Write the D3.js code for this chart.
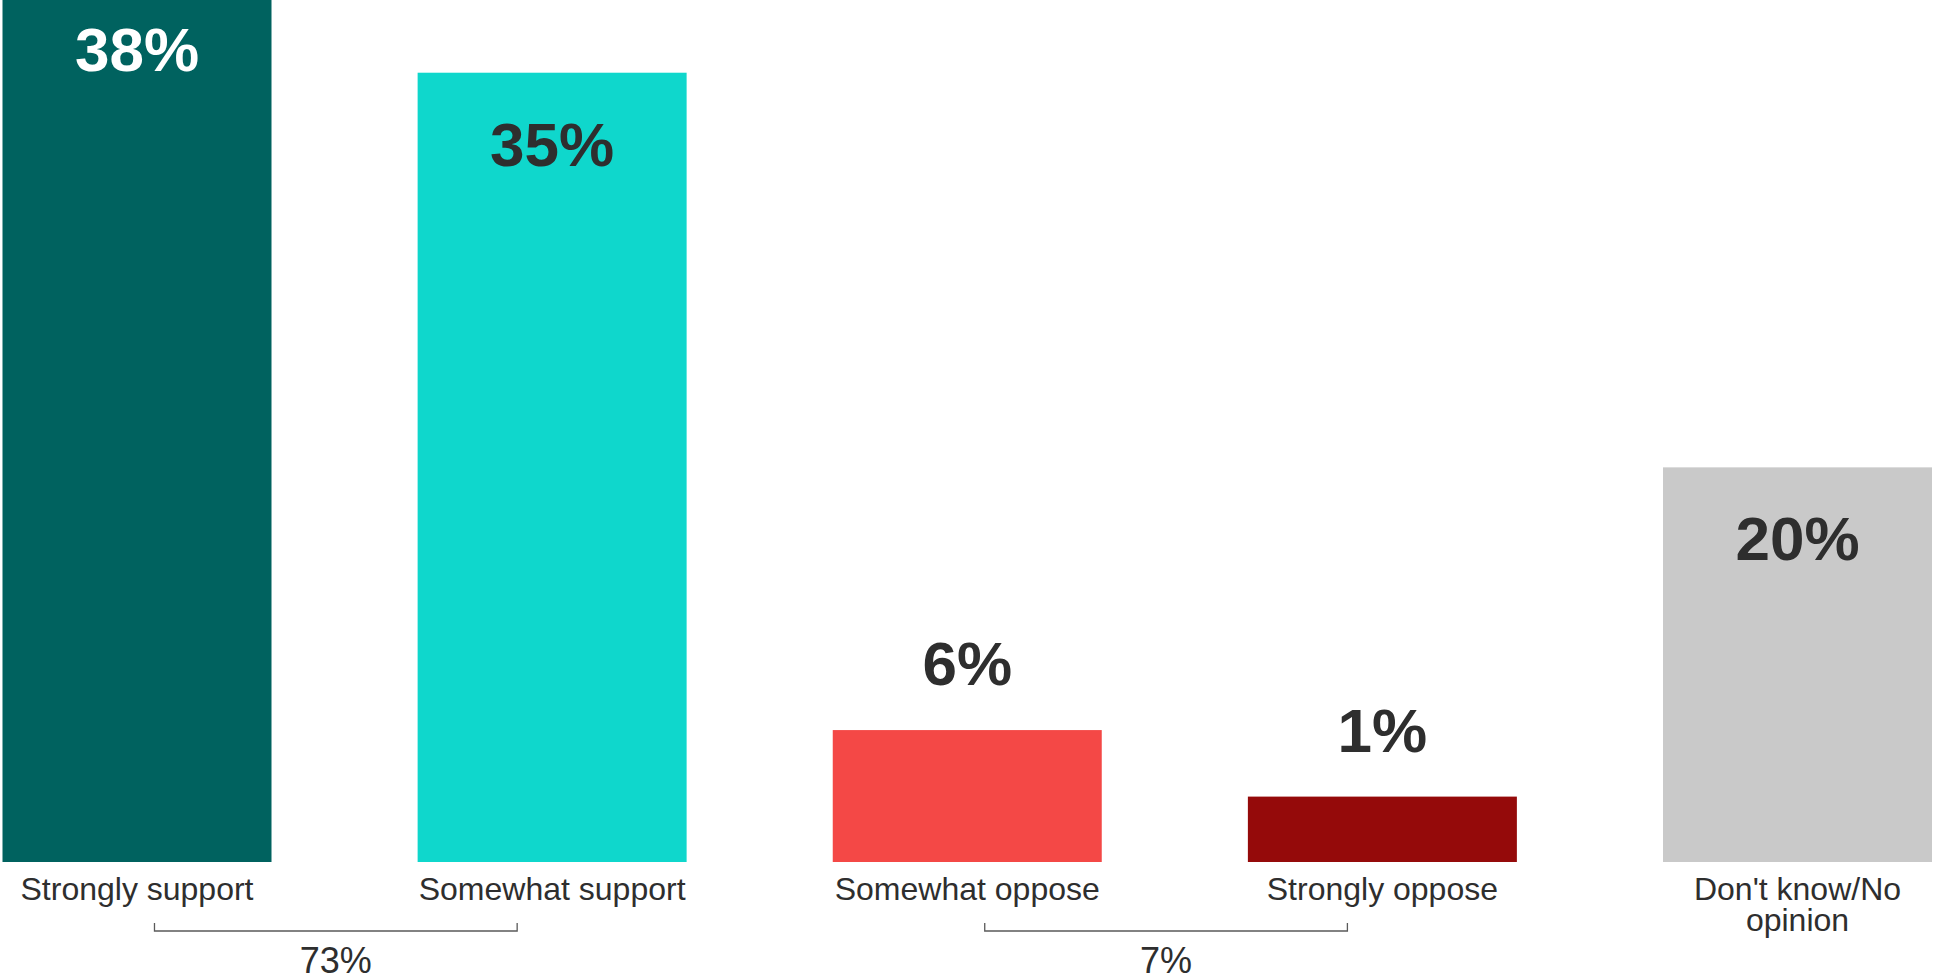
<!DOCTYPE html>
<html>
<head>
<meta charset="utf-8">
<script src="https://cdn.jsdelivr.net/npm/d3@7"></script>
<style>
  body { margin: 0; background: #ffffff; }
  #chart svg { display: block; }
</style>
</head>
<body>
<div id="chart"></div>
<script>
  // data

  const categories = ["Strongly support", "Somewhat support", "Somewhat oppose", "Strongly oppose", "Don't know/No opinion"];
  // bar lengths as drawn in the picture (top of first bar runs off the frame)
  const barLengths = [39.2, 35.0, 5.85, 2.9, 17.5];
  const valueLabels = ["38%", "35%", "6%", "1%", "20%"];
  const barColors = ["#00625f", "#0fd7cc", "#f44846", "#950a0a", "#c9c9c9"];

  const netFrom = [0, 2];
  const netTo = [1, 3];
  const netLabels = ["73%", "7%"];

  // config

  const width = 1934;
  const height = 980;
  const baseline = 862;
  const font = "'Liberation Sans', Arial, sans-serif";
  const textColor = "#2e2e2e";

  const svg = d3.select("#chart")
    .append("svg")
    .attr("width", width)
    .attr("height", height)
    .attr("viewBox", [0, 0, width, height]);

  // scales

  const xScale = d3.scaleBand()
    .domain(categories)
    .range([2.5, 1932])
    .paddingInner(0.352)
    .paddingOuter(0);

  const yScale = d3.scaleLinear()
    .domain([0, 39.2])
    .range([baseline, -22]);

  const bw = xScale.bandwidth();

  const rows = categories.map((c, i) => ({
    cat: c,
    len: barLengths[i],
    label: valueLabels[i],
    color: barColors[i]
  }));

  // bars

  svg.selectAll("rect.bar")
    .data(rows)
    .join("rect")
    .attr("class", "bar")
    .attr("x", d => xScale(d.cat))
    .attr("y", d => yScale(d.len))
    .attr("width", bw)
    .attr("height", d => baseline - yScale(d.len))
    .attr("fill", d => d.color);

  // value labels: inside tall bars, above short ones

  svg.selectAll("text.value")
    .data(rows)
    .join("text")
    .attr("class", "value")
    .attr("x", d => xScale(d.cat) + bw / 2)
    .attr("y", d => {
      const top = yScale(d.len);
      return (baseline - top) > 200 ? top + 93 : top - 45;
    })
    .attr("text-anchor", "middle")
    .style("font-family", font)
    .style("font-size", "62px")
    .style("font-weight", "bold")
    .style("fill", (d, i) => i === 0 ? "#ffffff" : textColor)
    .text(d => d.label);

  // category labels (wrapped)

  const catText = svg.selectAll("text.cat")
    .data(rows)
    .join("text")
    .attr("class", "cat")
    .attr("x", d => xScale(d.cat) + bw / 2)
    .attr("y", baseline + 38)
    .attr("text-anchor", "middle")
    .style("font-family", font)
    .style("font-size", "32px")
    .style("fill", textColor);

  catText.each(function (d) {
    const el = d3.select(this);
    const words = d.cat.split(" ");
    const x = xScale(d.cat) + bw / 2;
    let line = [];
    let tspan = el.append("tspan").attr("x", x).attr("dy", 0);
    words.forEach(w => {
      line.push(w);
      tspan.text(line.join(" "));
      if (tspan.node().getComputedTextLength() > bw + 20 && line.length > 1) {
        line.pop();
        tspan.text(line.join(" "));
        line = [w];
        tspan = el.append("tspan").attr("x", x).attr("dy", 31).text(w);
      }
    });
  });

  // net brackets

  netFrom.forEach((a, i) => {
    const x0 = xScale(categories[a]) + bw * 0.565;
    const x1 = xScale(categories[netTo[i]]) + bw * 0.37;

    svg.append("path")
      .attr("d", `M${x0},923V931H${x1}V923`)
      .attr("fill", "none")
      .attr("stroke", "#5a5a5a")
      .attr("stroke-width", 1.3);

    svg.append("text")
      .attr("x", (x0 + x1) / 2)
      .attr("y", 973)
      .attr("text-anchor", "middle")
      .style("font-family", font)
      .style("font-size", "36px")
      .style("fill", textColor)
      .text(netLabels[i]);
  });
</script>
</body>
</html>
